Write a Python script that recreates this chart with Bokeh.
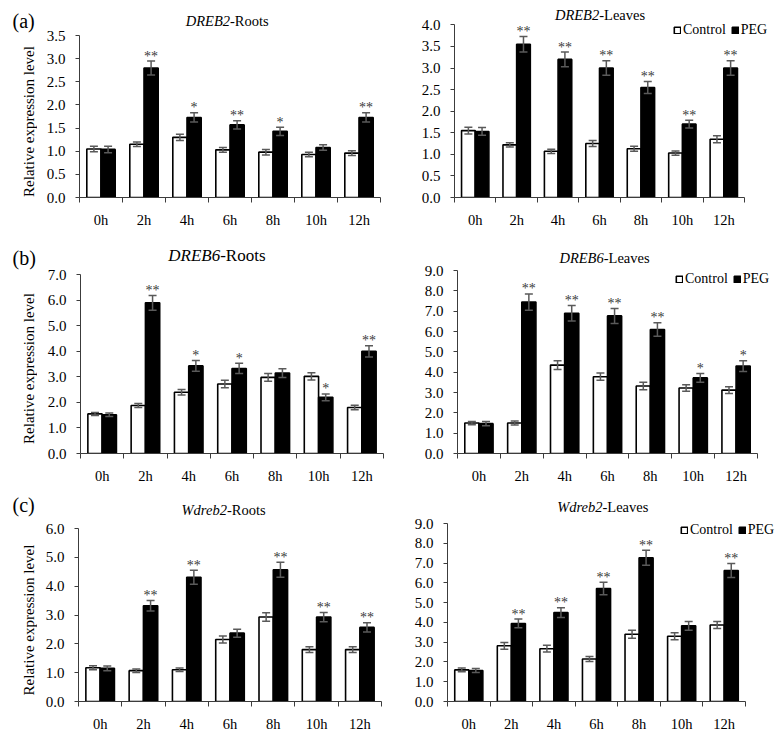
import math
from bokeh.plotting import figure
from bokeh.layouts import row, column
from bokeh.models import (ColumnDataSource, Whisker, TeeHead, FixedTicker, Label,
                          Legend, LegendItem, NumeralTickFormatter, Range1d)
from bokeh.embed import file_html
from bokeh.resources import INLINE
from bokeh.core.properties import value

# ---------------- data ----------------
times = ["0h", "2h", "4h", "6h", "8h", "10h", "12h"]

# (a) DREB2 - Roots
a_roots_ctrl = [1.05, 1.15, 1.30, 1.03, 0.98, 0.93, 0.96]
a_roots_ctrl_err = [0.06, 0.05, 0.07, 0.05, 0.06, 0.05, 0.05]
a_roots_peg = [1.04, 2.80, 1.73, 1.57, 1.43, 1.08, 1.73]
a_roots_peg_err = [0.07, 0.15, 0.10, 0.09, 0.09, 0.06, 0.10]
a_roots_sig = ["", "**", "*", "**", "*", "", "**"]

# (a) DREB2 - Leaves
a_leaves_ctrl = [1.55, 1.22, 1.07, 1.25, 1.13, 1.03, 1.35]
a_leaves_ctrl_err = [0.08, 0.05, 0.05, 0.07, 0.06, 0.05, 0.08]
a_leaves_peg = [1.53, 3.55, 3.20, 3.00, 2.55, 1.70, 3.00]
a_leaves_peg_err = [0.09, 0.18, 0.17, 0.17, 0.14, 0.09, 0.17]
a_leaves_sig = ["", "**", "**", "**", "**", "**", "**"]

# (b) DREB6 - Roots
b_roots_ctrl = [1.55, 1.88, 2.40, 2.72, 2.98, 3.02, 1.80]
b_roots_ctrl_err = [0.06, 0.08, 0.11, 0.15, 0.15, 0.14, 0.09]
b_roots_peg = [1.52, 5.90, 3.43, 3.33, 3.15, 2.20, 4.00]
b_roots_peg_err = [0.07, 0.29, 0.21, 0.20, 0.17, 0.13, 0.22]
b_roots_sig = ["", "**", "*", "*", "", "*", "**"]

# (b) DREB6 - Leaves
b_leaves_ctrl = [1.50, 1.50, 4.35, 3.78, 3.32, 3.22, 3.12]
b_leaves_ctrl_err = [0.08, 0.10, 0.22, 0.18, 0.18, 0.16, 0.17]
b_leaves_peg = [1.47, 7.45, 6.90, 6.77, 6.10, 3.72, 4.30]
b_leaves_peg_err = [0.10, 0.40, 0.38, 0.37, 0.33, 0.22, 0.27]
b_leaves_sig = ["", "**", "**", "**", "**", "*", "*"]

# (c) Wdreb2 - Roots
c_roots_ctrl = [1.17, 1.07, 1.10, 2.15, 2.93, 1.80, 1.80]
c_roots_ctrl_err = [0.07, 0.06, 0.06, 0.12, 0.15, 0.10, 0.10]
c_roots_peg = [1.15, 3.32, 4.31, 2.37, 4.57, 2.93, 2.57]
c_roots_peg_err = [0.08, 0.18, 0.24, 0.14, 0.26, 0.16, 0.16]
c_roots_sig = ["", "**", "**", "", "**", "**", "**"]

# (c) Wdreb2 - Leaves
c_leaves_ctrl = [1.60, 2.82, 2.67, 2.15, 3.40, 3.30, 3.87]
c_leaves_ctrl_err = [0.10, 0.17, 0.17, 0.13, 0.20, 0.18, 0.18]
c_leaves_peg = [1.57, 3.95, 4.50, 5.72, 7.27, 3.83, 6.63]
c_leaves_peg_err = [0.10, 0.22, 0.25, 0.32, 0.38, 0.22, 0.35]
c_leaves_sig = ["", "**", "**", "**", "**", "", "**"]

FONT = "Liberation Serif"
AXIS = "#3c3c3c"
ERR = "#5a5a5a"
STAR = "#3a3a3a"
SIDE_W = 37


def plain_fig(w, h):
    f = figure(width=w, height=h, x_range=Range1d(0, w), y_range=Range1d(0, h),
               x_axis_type=None, y_axis_type=None, output_backend="svg",
               toolbar_location=None, min_border=0, frame_align=False)
    f.outline_line_color = None
    f.xgrid.visible = False
    f.ygrid.visible = False
    return f


def title_labels(target, fx, fy, cx, cy, gene, tissue, size, shift):
    """Mixed italic/normal title; (fx, fy) = page position of the frame's
    bottom-left corner, (cx, cy) = page centre of the title."""
    x = cx - fx + shift
    y = fy - cy - 3
    target.add_layout(Label(x=x, y=y, x_units="screen", y_units="screen", text=gene,
                            text_font=FONT, text_font_style="italic", text_font_size=size,
                            text_align="right", text_baseline="middle", text_color="black"))
    target.add_layout(Label(x=x, y=y, x_units="screen", y_units="screen", text="-" + tissue,
                            text_font=FONT, text_font_style="normal", text_font_size=size,
                            text_align="left", text_baseline="middle", text_color="black"))


def make_main(geo, ctrl, ctrl_err, peg, peg_err, sig, ymax, ystep, ext_right):
    x0, x1, top, bottom, fx0, fx1, fy_top, fy_bottom = geo
    n = len(times)
    bl = fx0 - x0
    bb = bottom - fy_bottom
    y_end = ymax * (fy_bottom - top) / (fy_bottom - fy_top)
    if ext_right:
        br = 0
        x_end = 2 * n * (x1 - fx0) / (fx1 - fx0)
    else:
        br = x1 - fx1
        x_end = 2 * n

    xc = [2 * i + 1 for i in range(n)]
    src = ColumnDataSource(dict(
        xc=xc,
        x_ctrl=[x - 0.33 for x in xc],
        x_peg=[x + 0.33 for x in xc],
        ctrl=ctrl, peg=peg,
        ctrl_up=[v + e for v, e in zip(ctrl, ctrl_err)],
        ctrl_lo=[v - e for v, e in zip(ctrl, ctrl_err)],
        peg_up=[v + e for v, e in zip(peg, peg_err)],
        peg_lo=[v - e for v, e in zip(peg, peg_err)],
        sig=sig,
    ))
    p = figure(width=x1 - x0, height=bottom - top, x_range=Range1d(0, x_end),
               y_range=Range1d(0, y_end), output_backend="svg", toolbar_location=None,
               min_border=0, min_border_left=bl, min_border_right=br,
               min_border_top=0, min_border_bottom=bb, frame_align=False)
    p.outline_line_color = None
    p.xgrid.visible = False
    p.ygrid.visible = False

    rc = p.vbar(x="x_ctrl", top="ctrl", width=0.66, bottom=0, source=src,
                fill_color="white", line_color="black", line_width=1.6)
    rp = p.vbar(x="x_peg", top="peg", width=0.66, bottom=0, source=src,
                fill_color="black", line_color="black", line_width=1.6)

    for base, up, lo in (("x_ctrl", "ctrl_up", "ctrl_lo"), ("x_peg", "peg_up", "peg_lo")):
        p.add_layout(Whisker(base=base, upper=up, lower=lo, source=src, level="overlay",
                             line_color=ERR, line_width=1.5,
                             upper_head=TeeHead(size=8, line_color=ERR, line_width=1.5),
                             lower_head=TeeHead(size=8, line_color=ERR, line_width=1.5)))

    p.text(x="x_peg", y="peg_up", text="sig", source=src, text_align="center",
           text_baseline="alphabetic", y_offset=-5, text_font=value(FONT),
           text_font_size="14px", text_color=STAR)

    xa = p.xaxis[0]
    xa.bounds = (0, 2 * n)
    xa.ticker = FixedTicker(ticks=xc, minor_ticks=list(range(0, 2 * n + 1, 2)))
    xa.major_label_overrides = {x: t for x, t in zip(xc, times)}
    xa.axis_line_color = AXIS
    xa.major_tick_line_color = None
    xa.major_tick_in = 0
    xa.major_tick_out = 0
    xa.minor_tick_in = 0
    xa.minor_tick_out = 5
    xa.minor_tick_line_color = AXIS
    xa.major_label_standoff = 9
    xa.major_label_text_font = FONT
    xa.major_label_text_font_size = "14.5px"
    xa.major_label_text_color = "black"

    ya = p.yaxis[0]
    ya.bounds = (0, ymax)
    nt = int(round(ymax / ystep))
    ya.ticker = FixedTicker(ticks=[round(i * ystep, 2) for i in range(nt + 1)])
    ya.formatter = NumeralTickFormatter(format="0.0")
    ya.axis_line_color = AXIS
    ya.major_tick_line_color = AXIS
    ya.minor_tick_line_color = None
    ya.major_tick_in = 0
    ya.major_tick_out = 4
    ya.major_label_standoff = 10
    ya.major_label_text_font = FONT
    ya.major_label_text_font_size = "15px"
    ya.major_label_text_color = "black"
    return p, rc, rp


def make_left(geo, data, ymax, ystep, gene, tissue, tpos, tsize, tshift, letter, lpos):
    x0, x1, top, bottom, fx0, fx1, fy_top, fy_bottom = geo
    h = bottom - top
    side = plain_fig(SIDE_W, h)
    side.add_layout(Label(x=lpos[0] - x0, y=bottom - lpos[1], x_units="screen",
                          y_units="screen", text=letter, text_font=FONT,
                          text_font_size="20px", text_align="left",
                          text_baseline="middle", text_color="black"))
    side.add_layout(Label(x=28 - x0, y=bottom - (fy_top + fy_bottom) / 2 - 2,
                          x_units="screen", y_units="screen",
                          text="Relative expression level", angle=math.pi / 2,
                          text_font=FONT, text_font_size="15px", text_align="center",
                          text_baseline="middle", text_color="black"))
    mgeo = (x0 + SIDE_W, x1, top, bottom, fx0, fx1, fy_top, fy_bottom)
    p, rc, rp = make_main(mgeo, *data, ymax, ystep, False)
    title_labels(p, fx0, fy_bottom, tpos[0], tpos[1], gene, tissue, tsize, tshift)
    return row(side, p, spacing=0)


def make_right(geo, data, ymax, ystep, gene, tissue, tpos, tsize, tshift, legpos):
    x0, x1, top, bottom, fx0, fx1, fy_top, fy_bottom = geo
    p, rc, rp = make_main(geo, *data, ymax, ystep, True)
    title_labels(p, fx0, fy_bottom, tpos[0], tpos[1], gene, tissue, tsize, tshift)
    leg = Legend(items=[LegendItem(label="Control", renderers=[rc]),
                        LegendItem(label="PEG", renderers=[rp])],
                 orientation="horizontal",
                 location=(legpos[0] - fx0, fy_bottom - legpos[1] - 14),
                 glyph_width=8, glyph_height=8, label_standoff=2, spacing=5,
                 padding=0, margin=0, label_height=14,
                 border_line_color=None, background_fill_alpha=0,
                 label_text_font=FONT, label_text_font_size="14px",
                 label_text_color="black")
    p.add_layout(leg)
    return p


# page geometry: (fig_x0, fig_x1, fig_top, fig_bottom, axis_x0, axis_x1, axis_top, axis_bottom)
pa1 = make_left((0, 387, 0, 230, 79, 380, 36, 202),
                (a_roots_ctrl, a_roots_ctrl_err, a_roots_peg, a_roots_peg_err, a_roots_sig),
                3.5, 0.5, "DREB2", "Roots", (227, 22), "14.5px", 2.5, "(a)", (12, 20.5))
pa2 = make_right((387, 775, 0, 230, 454, 744, 25, 202),
                 (a_leaves_ctrl, a_leaves_ctrl_err, a_leaves_peg, a_leaves_peg_err, a_leaves_sig),
                 4.0, 0.5, "DREB2", "Leaves", (599.5, 16), "14.5px", -0.8, (673, 29))
pb1 = make_left((0, 387, 230, 486, 80, 383, 275, 457),
                (b_roots_ctrl, b_roots_ctrl_err, b_roots_peg, b_roots_peg_err, b_roots_sig),
                7.0, 1.0, "DREB6", "Roots", (216.5, 256), "17px", 3.2, "(b)", (12, 257))
pb2 = make_right((387, 775, 230, 486, 457, 757, 271, 458),
                 (b_leaves_ctrl, b_leaves_ctrl_err, b_leaves_peg, b_leaves_peg_err, b_leaves_sig),
                 9.0, 1.0, "DREB6", "Leaves", (604, 259), "14.5px", -0.8, (675, 278))
pc1 = make_left((0, 387, 486, 734, 78, 381, 529, 706),
                (c_roots_ctrl, c_roots_ctrl_err, c_roots_peg, c_roots_peg_err, c_roots_sig),
                6.0, 1.0, "Wdreb2", "Roots", (223, 511.5), "14.5px", 3.4, "(c)", (12, 504))
pc2 = make_right((387, 775, 486, 734, 447, 745, 524, 706),
                 (c_leaves_ctrl, c_leaves_ctrl_err, c_leaves_peg, c_leaves_peg_err, c_leaves_sig),
                 9.0, 1.0, "Wdreb2", "Leaves", (602, 508), "14.5px", 0.0, (680, 529))

layout = column(row(pa1, pa2, spacing=0), row(pb1, pb2, spacing=0),
                row(pc1, pc2, spacing=0), spacing=0)

with open("out.html", "w") as f:
    f.write(file_html(layout, INLINE))
